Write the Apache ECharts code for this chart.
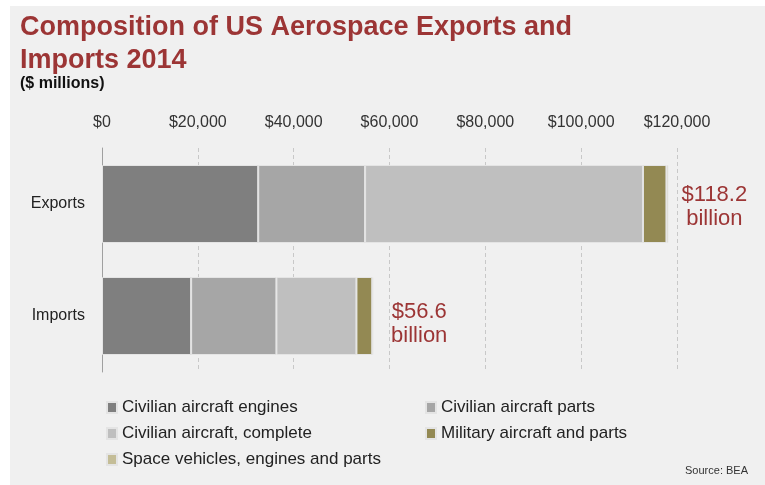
<!DOCTYPE html>
<html>
<head>
<meta charset="utf-8">
<script src="https://cdn.jsdelivr.net/npm/echarts@6/dist/echarts.min.js"></script>
<style>
  html, body { margin: 0; padding: 0; background: #ffffff; }
  #wrap { position: relative; width: 765px; height: 485px; background: #ffffff; overflow: hidden; }
  #panel { position: absolute; left: 10px; top: 6px; width: 755px; height: 479px; background: #f0f0f0; }
  #chart { position: absolute; left: 0; top: 0; width: 765px; height: 485px; }
</style>
</head>
<body>
<div id="wrap">
  <div id="panel"></div>
  <div id="chart"></div>
</div>
<script>
// Trade flows, 2014, in $ millions
const categories = ['Exports', 'Imports'];
const seriesNames = [
  'Civilian aircraft engines',
  'Civilian aircraft parts',
  'Civilian aircraft, complete',
  'Military aircraft and parts',
  'Space vehicles, engines and parts'
];
const enginesValues  = [32600, 18600];
const partsValues    = [22300, 17800];
const completeValues = [58000, 16700];
const militaryValues = [4900, 3300];
const spaceValues    = [400, 200];
const totalLabels    = ['$118.2\nbillion', '$56.6\nbillion'];
const tickValues     = [0, 20000, 40000, 60000, 80000, 100000, 120000];

const seriesColors = ['#7f7f7f', '#a6a6a6', '#bfbfbf', '#938953', '#c4bd97'];
const seriesData = [enginesValues, partsValues, completeValues, militaryValues, spaceValues];
// vertical nudge of each total label below its bar's centre line
const labelDrop = [3, 8];

const labelRed = '#9c3535';
const fontFamily = 'Liberation Sans, Arial, sans-serif';

function money(v) {
  return '$' + v.toLocaleString('en-US');
}

const series = seriesNames.map(function (name, i) {
  const isLast = i === seriesNames.length - 1;
  return {
    name: name,
    type: 'bar',
    stack: 'total',
    barWidth: 78,
    itemStyle: { color: seriesColors[i], borderColor: '#e4e4e4', borderWidth: 1 },
    emphasis: { disabled: true },
    data: seriesData[i].map(function (v, j) {
      if (!isLast) return v;
      return {
        value: v,
        label: {
          show: true,
          position: 'right',
          distance: 46,
          offset: [0, labelDrop[j]],
          formatter: totalLabels[j],
          color: labelRed,
          fontSize: 22,
          lineHeight: 24,
          align: 'center',
          fontFamily: fontFamily
        }
      };
    })
  };
});

const chart = echarts.init(document.getElementById('chart'), null, { renderer: 'canvas' });
chart.setOption({
  backgroundColor: 'transparent',
  animation: false,
  textStyle: { fontFamily: fontFamily },
  title: [
    {
      text: 'Composition of US Aerospace Exports and\nImports 2014',
      left: 20, top: 11, padding: 0,
      textStyle: { color: labelRed, fontSize: 27, fontWeight: 'bold', lineHeight: 33, fontFamily: fontFamily }
    },
    {
      text: '($ millions)',
      left: 20, top: 76, padding: 0,
      textStyle: { color: '#111', fontSize: 16, fontWeight: 'bold', fontFamily: fontFamily }
    },
    {
      text: 'Source: BEA',
      right: 17, top: 465, padding: 0,
      textStyle: { color: '#333', fontSize: 11, fontWeight: 'normal', fontFamily: fontFamily }
    }
  ],
  legend: [
    {
      data: [seriesNames[0], seriesNames[2], seriesNames[4]],
      orient: 'vertical',
      left: 106, top: 399, padding: 0,
      icon: 'rect', itemWidth: 10, itemHeight: 11, itemGap: 9,
      selectedMode: false,
      textStyle: { color: '#222', fontSize: 17, lineHeight: 17 }
    },
    {
      data: [seriesNames[1], seriesNames[3]],
      orient: 'vertical',
      left: 425, top: 399, padding: 0,
      icon: 'rect', itemWidth: 10, itemHeight: 11, itemGap: 9,
      selectedMode: false,
      textStyle: { color: '#222', fontSize: 17, lineHeight: 17 }
    }
  ],
  grid: { left: 102, right: 88, top: 148, bottom: 113, containLabel: false },
  xAxis: {
    type: 'value',
    position: 'top',
    min: tickValues[0],
    max: tickValues[tickValues.length - 1],
    interval: tickValues[1] - tickValues[0],
    axisLine: { show: false },
    axisTick: { show: false },
    axisLabel: { formatter: money, color: '#333', fontSize: 16, margin: 17 },
    splitLine: { show: true, lineStyle: { color: '#c8c8c8', type: [4, 3], width: 1 } }
  },
  yAxis: {
    type: 'category',
    inverse: true,
    data: categories,
    axisLine: { show: true, lineStyle: { color: '#a0a0a0', width: 1 } },
    axisTick: { show: false },
    axisLabel: { color: '#222', fontSize: 16, margin: 17 }
  },
  series: series
});
</script>
</body>
</html>
